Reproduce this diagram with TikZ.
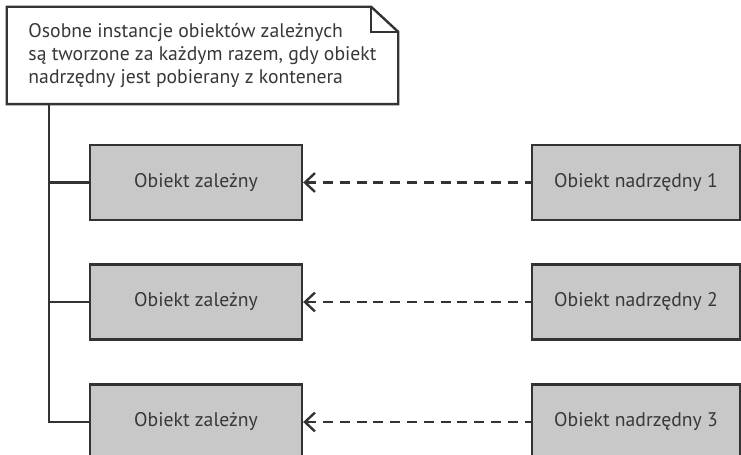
\documentclass[tikz,border=0pt]{standalone}
\usepackage{fontspec}
\setmainfont{PT Sans}
\usepackage{xcolor}
\usetikzlibrary{calc}
\usetikzlibrary{arrows.meta}
\definecolor{linegray}{HTML}{333333}
\definecolor{boxgray}{HTML}{C8C8C8}
\definecolor{textgray}{HTML}{383838}

\begin{document}
\begin{tikzpicture}[
  line width=0.06cm, draw=linegray,
  every node/.style={text=textgray, font=\fontsize{14}{16.5}\selectfont},
  objbox/.style={draw=linegray, fill=boxgray, minimum width=5.3cm, minimum height=1.875cm},
  dep/.style={dashed, dash pattern=on 0.25cm off 0.17cm, {Straight Barb[length=0.25cm,width=0.47cm]}-}]
  \clip (0,0) rectangle (18.525,-11.375);
  \fill[white] (0,0) rectangle (18.525,-11.375);
  \node[minimum width=9.725cm, minimum height=2.375cm, align=left, inner xsep=0.35cm] (note) at (5.0625,-1.3875)
    {Osobne instancje obiektów zależnych\\są tworzone za każdym razem, gdy obiekt\\nadrzędny jest pobierany z kontenera};
  \draw (note.north west) -- ($(note.north east)+(-0.675,0)$) -- ($(note.north east)+(0,-0.625)$)
    -- (note.south east) -- (note.south west) -- cycle;
  \draw ($(note.north east)+(-0.675,0)$) |- ($(note.north east)+(0,-0.625)$);
  \node[objbox] (z1) at (4.9,-4.5625) {Obiekt zależny};
  \node[objbox] (z2) at (4.9,-7.55) {Obiekt zależny};
  \node[objbox] (z3) at (4.9,-10.55) {Obiekt zależny};
  \node[objbox, minimum width=5.2cm] (n1) at (15.9,-4.5625) {Obiekt nadrzędny 1};
  \node[objbox, minimum width=5.2cm] (n2) at (15.9,-7.55) {Obiekt nadrzędny 2};
  \node[objbox, minimum width=5.2cm] (n3) at (15.9,-10.55) {Obiekt nadrzędny 3};
  \draw ($(note.south west)+(1.05,0)$) coordinate (trunk) |- (z3.west);
  \draw (z1.west) -- (z1.west -| trunk);
  \draw (z2.west) -- (z2.west -| trunk);
  \draw[dep] (z1) -- (n1);
  \draw[dep] (z2) -- (n2);
  \draw[dep] (z3) -- (n3);
\end{tikzpicture}
\end{document}
